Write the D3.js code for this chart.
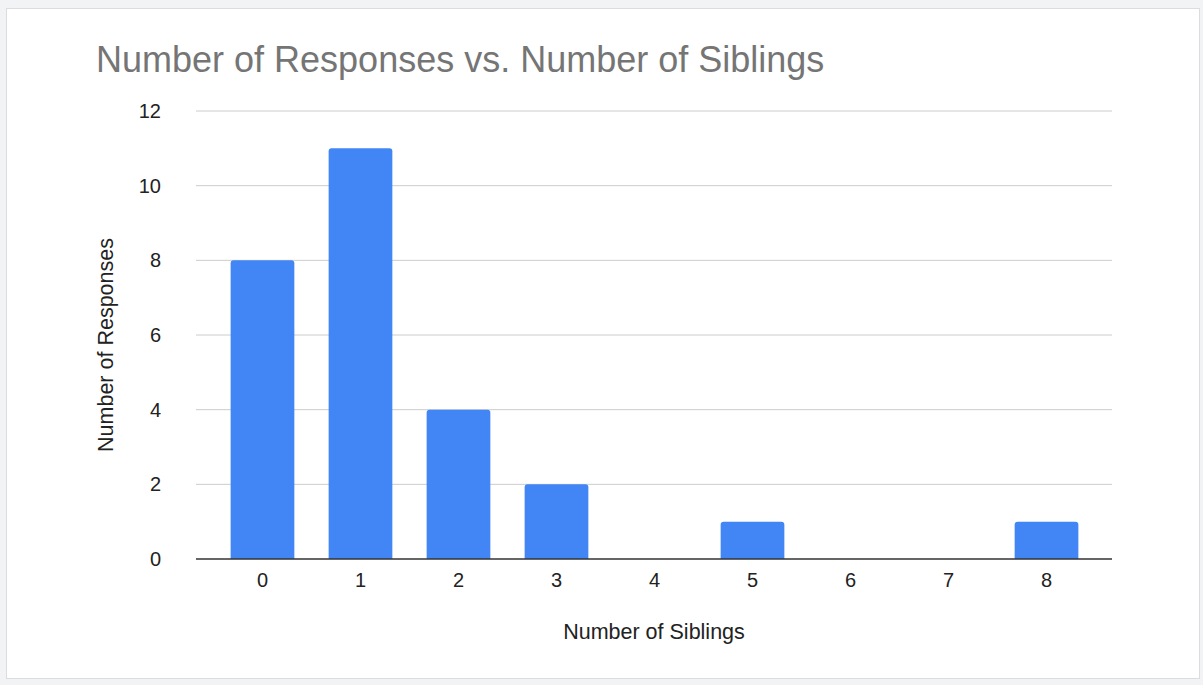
<!DOCTYPE html>
<html>
<head>
<meta charset="utf-8">
<script src="https://cdn.jsdelivr.net/npm/d3@7"></script>
<style>
  html, body { margin: 0; padding: 0; background: #f1f3f4; }
  svg { display: block; font-family: Arial, "Liberation Sans", sans-serif; }
</style>
</head>
<body>
<svg id="chart" width="1203" height="685"></svg>
<script>
// chart data
const siblings = ['0', '1', '2', '3', '4', '5', '6', '7', '8'];
const responses = [8, 11, 4, 2, 0, 1, 0, 0, 1];
const yTicks = [0, 2, 4, 6, 8, 10, 12];

const svg = d3.select('#chart');

// white card
svg.append('rect')
  .attr('x', 6.5).attr('y', 8.5)
  .attr('width', 1193).attr('height', 670)
  .attr('fill', '#ffffff')
  .attr('stroke', '#dadce0');

svg.append('text')
  .attr('x', 96).attr('y', 72)
  .attr('fill', '#757575')
  .style('font-size', '36px')
  .text('Number of Responses vs. Number of Siblings');

const plot = {l: 196, r: 1112, t: 111, b: 559};

let yScale = d3.scaleLinear()
  .domain([0, 12])
  .range([plot.b, plot.t]);

let xScale = d3.scaleBand()
  .domain(siblings)
  .range([213, 1096])
  .paddingInner(0.35)
  .paddingOuter(0.18);

// gridlines
svg.selectAll('.grid')
  .data(yTicks.filter(d => d > 0))
  .join('line')
  .classed('grid', true)
  .attr('x1', plot.l).attr('x2', plot.r)
  .attr('y1', d => yScale(d)).attr('y2', d => yScale(d))
  .attr('stroke', '#cccccc')
  .attr('stroke-width', 1);

// y tick labels
svg.selectAll('.ylab')
  .data(yTicks)
  .join('text')
  .classed('ylab', true)
  .attr('x', 161)
  .attr('y', d => yScale(d))
  .attr('text-anchor', 'end')
  .attr('dominant-baseline', 'central')
  .style('font-size', '20px')
  .attr('fill', '#222')
  .text(d => d);

// bars, rounded top corners
const rr = 3;
svg.selectAll('.bar')
  .data(responses.map((v, i) => ({k: siblings[i], v: v})).filter(d => d.v > 0))
  .join('path')
  .classed('bar', true)
  .attr('fill', '#4285f4')
  .attr('d', d => {
    let x0 = xScale(d.k), w = xScale.bandwidth();
    let y0 = yScale(d.v), y1 = yScale(0);
    return `M${x0},${y1}V${y0 + rr}Q${x0},${y0} ${x0 + rr},${y0}H${x0 + w - rr}Q${x0 + w},${y0} ${x0 + w},${y0 + rr}V${y1}Z`;
  });

// baseline
svg.append('line')
  .attr('x1', plot.l).attr('x2', plot.r)
  .attr('y1', yScale(0)).attr('y2', yScale(0))
  .attr('stroke', '#333333')
  .attr('stroke-width', 1.5);

// x tick labels
svg.selectAll('.xlab')
  .data(siblings)
  .join('text')
  .classed('xlab', true)
  .attr('x', d => xScale(d) + xScale.bandwidth() / 2)
  .attr('y', 587)
  .attr('text-anchor', 'middle')
  .style('font-size', '20px')
  .attr('fill', '#222')
  .text(d => d);

// axis titles
svg.append('text')
  .attr('x', 654).attr('y', 639)
  .attr('text-anchor', 'middle')
  .style('font-size', '21.5px')
  .attr('fill', '#222')
  .text('Number of Siblings');

svg.append('text')
  .attr('transform', 'translate(113,345) rotate(-90)')
  .attr('text-anchor', 'middle')
  .style('font-size', '21.5px')
  .attr('fill', '#222')
  .text('Number of Responses');
</script>
</body>
</html>
